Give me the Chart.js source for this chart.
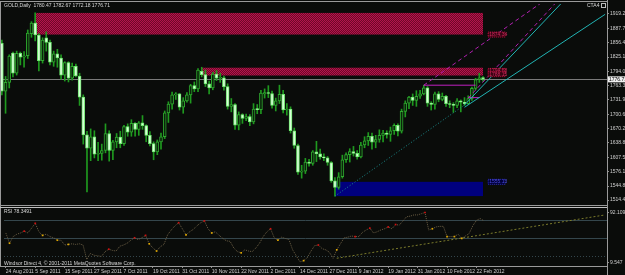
<!DOCTYPE html>
<html>
<head>
<meta charset="utf-8">
<script src="https://cdn.jsdelivr.net/npm/chart.js@4.4.0/dist/chart.umd.min.js"></script>
<style>
  html, body { margin: 0; padding: 0; background: #0a0c0a; }
  #wrap { position: relative; width: 625px; height: 275px; overflow: hidden; background: #0a0c0a; }
  canvas { position: absolute; left: 0; }
  .t { position: absolute; font: 5px 'Liberation Sans', Arial, sans-serif; color: #d8d8d8; white-space: nowrap; line-height: 6px; }
  .ln { position: absolute; background: #9a9a9a; }
</style>
</head>
<body>
<div id="wrap">
  <canvas id="main" width="625" height="206" style="top:0"></canvas>
  <canvas id="rsi" width="625" height="68" style="top:207px"></canvas>
  <div class="ln" style="left:0;top:1px;width:607px;height:1px"></div>
  <div class="ln" style="left:0;top:1px;width:1px;height:266px"></div>
  <div class="ln" style="left:0;top:205px;width:607px;height:1px"></div>
  <div class="ln" style="left:0;top:207px;width:607px;height:1px;background:#c0c0c0"></div>
  <div class="ln" style="left:0;top:266px;width:607px;height:1px"></div>
  <div class="ln" style="left:607px;top:0;width:1px;height:275px"></div>
  <div class="t" style="left:4px;top:2px">GOLD,Daily&nbsp; 1780.47 1782.67 1772.18 1776.71</div>
  <div class="t" style="left:587px;top:2px">CTA4 <span style="display:inline-block;width:3px;height:3px;border:1px solid #bbb;vertical-align:middle"></span></div>
  <div class="t" style="left:4px;top:208px">RSI 78.3491</div>
  <div class="t" style="left:4px;top:260px">Windsor Direct 4, © 2001-2011 MetaQuotes Software Corp.</div>
</div>
<script>
// daily bars 24 Aug 2011 .. 24 Feb 2012
const opens = [1855,1751,1770,1834,1790,1833,1825,1828,1876,1899,1873,1817,1867,1857,1814,1832,1823,1786,1813,1779,
  1805,1784,1738,1656,1627,1652,1614,1616,1622,1659,1622,1641,1651,1637,1674,1662,1681,1668,1682,1676,
  1655,1637,1619,1641,1652,1704,1723,1743,1745,1716,1730,1743,1763,1756,1794,1787,1767,1758,1788,1779,
  1780,1761,1718,1722,1677,1700,1692,1696,1684,1712,1711,1745,1748,1746,1720,1730,1744,1710,1712,1665,
  1633,1575,1577,1597,1594,1619,1615,1608,1606,1596,1556,1542,1565,1602,1613,1620,1616,1608,1634,1643,
  1653,1640,1646,1655,1660,1657,1665,1677,1664,1707,1725,1738,1731,1740,1745,1758,1725,1722,1745,1733,
  1740,1724,1722,1720,1730,1727,1724,1735,1757,1776,1780.47];
const highs = [1862,1783,1830,1836,1838,1836,1837,1884,1902,1921,1876,1867,1880,1862,1838,1842,1830,1815,1815,1812,
  1810,1790,1743,1664,1669,1665,1640,1636,1680,1665,1644,1659,1664,1677,1680,1689,1683,1685,1698,1678,
  1663,1641,1645,1660,1708,1728,1749,1748,1746,1737,1748,1766,1771,1800,1803,1797,1773,1792,1796,1790,
  1784,1767,1735,1724,1706,1702,1701,1700,1724,1722,1753,1756,1763,1751,1736,1764,1753,1724,1717,1671,
  1636,1590,1605,1603,1622,1642,1625,1615,1609,1598,1563,1574,1612,1617,1626,1631,1622,1640,1652,1661,
  1660,1655,1667,1666,1665,1673,1680,1680,1712,1730,1740,1745,1752,1753,1764,1761,1728,1749,1750,1747,
  1742,1730,1726,1735,1732,1737,1741,1760,1779,1790,1782.67];
const lows = [1743,1703,1758,1782,1786,1808,1803,1822,1868,1860,1795,1812,1838,1808,1805,1803,1777,1773,1771,1775,
  1782,1720,1636,1532,1600,1606,1600,1601,1617,1599,1602,1628,1628,1633,1653,1653,1653,1655,1668,1641,
  1632,1602,1613,1625,1648,1683,1712,1733,1710,1703,1727,1725,1750,1750,1782,1761,1745,1754,1774,1770,
  1753,1712,1706,1668,1667,1681,1687,1676,1680,1702,1702,1736,1737,1714,1708,1724,1704,1699,1660,1627,
  1570,1562,1572,1588,1590,1598,1603,1600,1590,1553,1523,1538,1562,1596,1597,1610,1603,1606,1628,1633,
  1625,1628,1640,1641,1649,1642,1657,1654,1660,1695,1713,1720,1718,1735,1743,1718,1710,1712,1728,1730,
  1718,1715,1705,1715,1706,1720,1722,1731,1754,1770,1772.18];
const closes = [1751,1770,1827,1790,1833,1825,1828,1877,1899,1873,1817,1862,1857,1814,1832,1823,1786,1813,1779,1805,
  1784,1738,1656,1627,1652,1614,1616,1622,1659,1622,1641,1651,1637,1674,1662,1681,1668,1682,1676,1655,
  1637,1619,1641,1652,1704,1723,1743,1745,1716,1730,1743,1763,1756,1797,1787,1767,1758,1788,1779,1780,
  1761,1718,1722,1677,1700,1692,1696,1684,1712,1711,1747,1748,1746,1720,1730,1744,1710,1712,1665,1633,
  1575,1577,1597,1594,1619,1615,1608,1606,1596,1556,1542,1565,1602,1613,1620,1616,1608,1634,1643,1653,
  1640,1646,1655,1660,1657,1665,1677,1664,1707,1725,1738,1731,1740,1745,1758,1725,1722,1745,1733,1740,
  1724,1722,1720,1730,1727,1724,1735,1757,1776,1780,1776.71];

const rsiValues = [58,41,52,56,58,61,58,66,74,60,54,56,52,50,46,46,38,39,40,39,
  40,38,14,24,21,20,19,27,31,29,28,36,38,41,46,50,47,50,54,40,
  33,28,35,39,55,63,70,75,65,55,60,64,70,75,78,65,58,60,54,49,
  45,44,33,27,25,30,28,27,33,41,52,60,65,50,46,51,49,47,30,20,
  10,12,17,28,37,38,32,30,26,16,30,40,50,51,53,52,52,59,63,66,
  58,60,63,65,68,65,72,71,78,85,86,88,88,90,92,63,65,68,69,69,
  52,52,52,56,49,53,57,70,79,82,78.35];
const rsiPeaks = [5,8,28,35,38,47,54,72,85,95,99,104,106,114];
const rsiTroughs = [1,10,14,17,39,41,49,56,64,74,81,90,116,120,122,124];
const rsiTicks = [92.109, 9.547];
const rsiLevels = [80, 50, 20];
const rsiTrend = [[90, 16], [163, 88]];

const priceTicks = [1919.20,1887.70,1856.40,1825.10,1794.00,1763.30,1731.90,1700.60,1670.20,1638.80,1607.50,1576.10,1544.80,1514.40];
const dateTickBars = [0,8,16,24,32,40,48,56,64,72,80,88,96,104,112,120,128];
const dateTickLabels = ['24 Aug 2011','5 Sep 2011','15 Sep 2011','27 Sep 2011','7 Oct 2011','19 Oct 2011','31 Oct 2011',
  '10 Nov 2011','22 Nov 2011','2 Dec 2011','14 Dec 2011','27 Dec 2011','9 Jan 2012','19 Jan 2012','31 Jan 2012',
  '10 Feb 2012','22 Feb 2012'];

// drawn objects: [fromBar, toBar, top price, bottom price]
const redZones = [[9, 130, 1921, 1874], [54, 130, 1802, 1785]];
const blueZones = [[90, 130, 1554, 1523]];
const zoneTags = [[1874, '1874.34'], [1795, '1794.68'], [1788, '1788.15'], [1554, '1555.13']];
// trend lines: [bar, price] pairs
const tealDotted = [[90, 1523], [125, 1721]];
const cyanSteep = [[125, 1721], [152, 1949]];
const cyanFlat = [[125, 1716], [163, 1918]];
const magentaDash1 = [[114, 1764], [150, 1967]];
const magentaDash2 = [[126, 1736], [150, 1946]];
const magentaFlat1 = [[114, 1764], [128, 1764]];
const magentaFlat2 = [[126, 1737], [129, 1737]];

const N = 164; // bar slots incl. empty right margin
const labels = Array.from({length: N}, (_, i) => String(i));
const lastClose = closes[closes.length - 1];
const font5 = {family: "'Liberation Sans', Arial, sans-serif", size: 5};

function seg(pts) {
  const a = new Array(N).fill(null);
  pts.forEach(p => { a[p[0]] = p[1]; });
  return a;
}
function lineSet(pts, color, dash) {
  return {type: 'line', data: seg(pts), borderColor: color, borderWidth: 1, borderDash: dash || [],
    pointRadius: 0, spanGaps: true, order: 0};
}

// hatched crimson fill like the MT4 rectangle
const pc = document.createElement('canvas');
pc.width = 2; pc.height = 2;
const pctx = pc.getContext('2d');
pctx.fillStyle = '#6e0828'; pctx.fillRect(0, 0, 2, 2);
pctx.fillStyle = '#b4144c'; pctx.fillRect(0, 0, 1, 1); pctx.fillRect(1, 1, 1, 1);

const zonesPlugin = {
  id: 'zones',
  beforeDatasetsDraw(chart) {
    const {ctx, chartArea, scales: {x, y}} = chart;
    ctx.save();
    const pat = ctx.createPattern(pc, 'repeat');
    redZones.forEach(z => {
      const x0 = x.getPixelForValue(z[0]), x1 = x.getPixelForValue(z[1]);
      const y0 = y.getPixelForValue(z[2]), y1 = y.getPixelForValue(z[3]);
      ctx.fillStyle = pat;
      ctx.fillRect(x0, y0, x1 - x0, y1 - y0);
    });
    blueZones.forEach(z => {
      const x0 = x.getPixelForValue(z[0]), x1 = x.getPixelForValue(z[1]);
      const y0 = y.getPixelForValue(z[2]), y1 = y.getPixelForValue(z[3]);
      ctx.fillStyle = '#00007e';
      ctx.fillRect(x0, y0, x1 - x0, y1 - y0);
    });
    // current price line
    const py = Math.round(y.getPixelForValue(lastClose)) + 0.5;
    ctx.strokeStyle = '#7a7a7a';
    ctx.lineWidth = 1;
    ctx.beginPath();
    ctx.moveTo(chartArea.left, py);
    ctx.lineTo(chartArea.right, py);
    ctx.stroke();
    ctx.restore();
  },
  afterDraw(chart) {
    const {ctx, chartArea, scales: {x, y}} = chart;
    ctx.save();
    ctx.font = "5px 'Liberation Sans', Arial, sans-serif";
    ctx.textBaseline = 'middle';
    // tags beside the zones
    const tx = x.getPixelForValue(131) + 1;
    zoneTags.forEach(t => {
      const ty = y.getPixelForValue(t[0]);
      const blue = t[0] < 1600;
      ctx.fillStyle = blue ? '#00003a' : '#3a0414';
      ctx.fillRect(tx, ty - 2.5, 17, 5);
      ctx.strokeStyle = blue ? '#3030c0' : '#c01040';
      ctx.setLineDash([1, 1]);
      ctx.strokeRect(tx + 0.5, ty - 2.5, 17, 5);
      ctx.fillStyle = blue ? '#4848d8' : '#c8285a';
      ctx.fillText(t[1], tx + 1.5, ty);
    });
    ctx.setLineDash([]);
    // current price box on the axis
    const py = y.getPixelForValue(lastClose);
    ctx.fillStyle = '#f0f0f0';
    ctx.fillRect(chartArea.right + 1, py - 3, 18, 6);
    ctx.fillStyle = '#000';
    ctx.fillText(lastClose.toFixed(2), chartArea.right + 2, py);
    ctx.restore();
  }
};

new Chart(document.getElementById('main'), {
  type: 'bar',
  data: {
    labels: labels,
    datasets: [
      {data: lows.map((l, i) => [l, highs[i]]), backgroundColor: '#1f9a1f', barThickness: 1,
        grouped: false, order: 3},
      {data: opens.map((o, i) => [o, closes[i]]),
        backgroundColor: opens.map((o, i) => closes[i] >= o ? '#0b230b' : '#d6ffd6'),
        borderColor: opens.map((o, i) => closes[i] >= o ? '#2ea82e' : '#6ee86e'),
        borderWidth: 1, borderSkipped: false, barThickness: 3, minBarLength: 1, grouped: false, order: 2},
      lineSet(tealDotted, '#1c8c8c', [1, 2]),
      lineSet(cyanSteep, '#22b4b4'),
      lineSet(cyanFlat, '#22b4b4'),
      lineSet(magentaDash1, '#b020b0', [4, 3]),
      lineSet(magentaDash2, '#b020b0', [4, 3]),
      lineSet(magentaFlat1, '#c020c0'),
      lineSet(magentaFlat2, '#c020c0')
    ]
  },
  options: {
    responsive: false,
    animation: false,
    layout: {padding: {top: 2, bottom: 1, left: 0, right: 0}},
    plugins: {legend: {display: false}, tooltip: {enabled: false}},
    scales: {
      x: {display: false},
      y: {
        position: 'right',
        min: 1510.2,
        max: 1940.4,
        afterFit: s => { s.width = 18; },
        afterBuildTicks: s => { s.ticks = priceTicks.map(v => ({value: v})); },
        ticks: {font: font5, color: '#d0d0d0', padding: 1, callback: v => v.toFixed(2)},
        grid: {drawOnChartArea: false, tickLength: 2, color: '#8c8c8c'},
        border: {display: false}
      }
    }
  },
  plugins: [zonesPlugin]
});

const levelsPlugin = {
  id: 'levels',
  beforeDatasetsDraw(chart) {
    const {ctx, chartArea, scales: {y}} = chart;
    ctx.save();
    ctx.strokeStyle = '#34464c';
    ctx.lineWidth = 1;
    rsiLevels.forEach((v, k) => {
      const ly = Math.round(y.getPixelForValue(v)) + 0.5;
      ctx.setLineDash(k === 2 ? [1, 2] : []);
      ctx.beginPath();
      ctx.moveTo(chartArea.left, ly);
      ctx.lineTo(chartArea.right, ly);
      ctx.stroke();
    });
    ctx.restore();
  }
};

function marks(idx) {
  const a = new Array(N).fill(null);
  idx.forEach(i => { a[i] = rsiValues[i]; });
  return a;
}

new Chart(document.getElementById('rsi'), {
  type: 'line',
  data: {
    labels: labels,
    datasets: [
      {data: rsiValues, borderColor: '#6c5f45', borderWidth: 1, borderDash: [1, 1], pointRadius: 0, order: 2},
      {data: marks(rsiPeaks), showLine: false, pointStyle: 'rect', pointRadius: 1.2,
        pointBackgroundColor: '#d01010', pointBorderWidth: 0, order: 1},
      {data: marks(rsiTroughs), showLine: false, pointStyle: 'rect', pointRadius: 1.2,
        pointBackgroundColor: '#e0a800', pointBorderWidth: 0, order: 1},
      {data: seg(rsiTrend), borderColor: '#7c7c2c', borderWidth: 1, borderDash: [2, 2],
        pointRadius: 0, spanGaps: true, order: 3}
    ]
  },
  options: {
    responsive: false,
    animation: false,
    layout: {padding: {top: 2, bottom: 0, left: 0, right: 0}},
    plugins: {legend: {display: false}, tooltip: {enabled: false}},
    scales: {
      x: {
        offset: true,
        afterFit: s => { s.height = 9; },
        ticks: {
          font: font5, color: '#d0d0d0', autoSkip: false, maxRotation: 0, align: 'start', padding: 1,
          callback: (v, i) => {
            const k = dateTickBars.indexOf(i);
            return k >= 0 ? dateTickLabels[k] : null;
          }
        },
        grid: {drawOnChartArea: false, tickLength: 2, color: '#8c8c8c'},
        border: {display: false}
      },
      y: {
        position: 'right',
        min: 3.13,
        max: 94.5,
        afterFit: s => { s.width = 18; },
        afterBuildTicks: s => { s.ticks = rsiTicks.map(v => ({value: v})); },
        ticks: {font: font5, color: '#d0d0d0', padding: 1, callback: v => String(v)},
        grid: {drawOnChartArea: false, tickLength: 2, color: '#8c8c8c'},
        border: {display: false}
      }
    }
  },
  plugins: [levelsPlugin]
});
</script>
</body>
</html>
